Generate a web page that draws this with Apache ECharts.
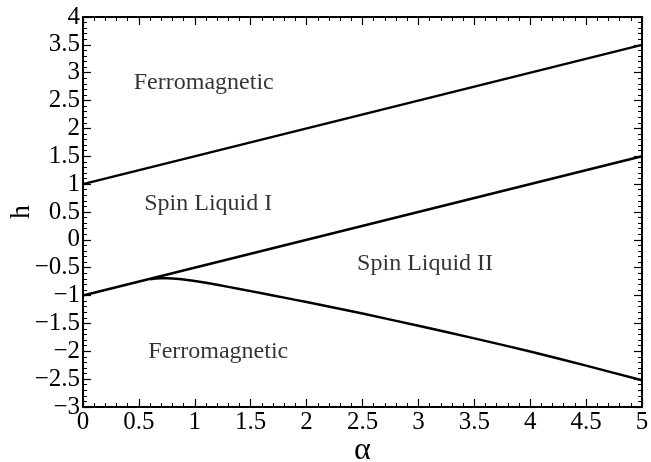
<!DOCTYPE html>
<html>
<head>
<meta charset="utf-8">
<script src="https://cdn.jsdelivr.net/npm/echarts@6/dist/echarts.min.js"></script>
<style>html,body{margin:0;padding:0;background:#fff}#c{width:651px;height:462px}</style>
</head>
<body>
<div id="c"></div>
<script>
// Upper boundary (Ferromagnetic / Spin Liquid I)
const upperAlpha = [0, 5];
const upperH = [1.0, 3.5];
// Middle boundary (Spin Liquid I / Spin Liquid II & Ferromagnetic)
const middleAlpha = [0, 5];
const middleH = [-1.0, 1.5];
// Lower boundary curve (Spin Liquid II / Ferromagnetic)
const lowerAlpha = [0.6, 0.65, 0.7, 0.75, 0.8, 0.9, 1.0, 1.2, 1.4, 1.6, 1.8, 2.0, 2.5, 3.0, 3.5, 4.0, 4.5, 5.0];
const lowerH = [-0.705, -0.693, -0.688, -0.688, -0.693, -0.71, -0.737, -0.807, -0.882, -0.958, -1.037, -1.117, -1.322, -1.543, -1.768, -2.003, -2.258, -2.52];
// Region labels
const regionNames = ['Ferromagnetic', 'Spin Liquid I', 'Spin Liquid II', 'Ferromagnetic'];
const regionAlpha = [1.08, 1.12, 3.06, 1.21];
const regionH = [2.82, 0.64, -0.42, -2.01];

const zip = (a, b) => a.map((v, i) => [v, b[i]]);
const FONT = '"Liberation Serif", "DejaVu Serif", serif';
const fmt = v => String(+v.toFixed(1)).replace('-', '\u2212');

const axisCommon = {
  type: 'value',
  axisLine: { show: true, onZero: false, lineStyle: { color: '#000', width: 2 } },
  axisTick: { show: true, inside: true, length: 8, lineStyle: { color: '#000', width: 1.2 } },
  minorTick: { show: true, splitNumber: 5, length: 4, lineStyle: { color: '#000', width: 1 } },
  splitLine: { show: false },
  minorSplitLine: { show: false }
};

const chart = echarts.init(document.getElementById('c'), null, { renderer: 'canvas' });
chart.setOption({
  animation: false,
  backgroundColor: '#fff',
  grid: { left: 83, right: 9, top: 17, bottom: 55, containLabel: false, outerBoundsMode: 'none' },
  xAxis: [
    Object.assign({}, axisCommon, {
      min: 0, max: 5, interval: 0.5, position: 'bottom',
      name: '\u03b1', nameLocation: 'middle', nameGap: 28, nameMoveOverlap: false,
      nameTextStyle: { fontFamily: FONT, fontSize: 32, color: '#000', verticalAlign: 'top' },
      axisLabel: { show: true, margin: 3, fontFamily: FONT, fontSize: 25, color: '#000', hideOverlap: false,
        showMinLabel: true, showMaxLabel: true, formatter: v => fmt(v) }
    }),
    Object.assign({}, axisCommon, {
      min: 0, max: 5, interval: 0.5, position: 'top', axisLabel: { show: false }
    })
  ],
  yAxis: [
    Object.assign({}, axisCommon, {
      min: -3, max: 4, interval: 0.5, position: 'left',
      name: 'h', nameLocation: 'middle', nameGap: 47, nameRotate: 90, nameMoveOverlap: false,
      nameTextStyle: { fontFamily: FONT, fontSize: 28, color: '#000' },
      axisLabel: { show: true, margin: 3, fontFamily: FONT, fontSize: 25, lineHeight: 25, color: '#000', hideOverlap: false,
        showMinLabel: true, showMaxLabel: true, formatter: v => fmt(v) }
    }),
    Object.assign({}, axisCommon, {
      min: -3, max: 4, interval: 0.5, position: 'right', axisLabel: { show: false }
    })
  ],
  series: [
    { type: 'line', data: zip(upperAlpha, upperH), symbol: 'none', lineStyle: { color: '#000', width: 2.5 }, silent: true },
    { type: 'line', data: zip(middleAlpha, middleH), symbol: 'none', lineStyle: { color: '#000', width: 2.5 }, silent: true },
    { type: 'line', data: zip(lowerAlpha, lowerH), symbol: 'none', smooth: 0.2, lineStyle: { color: '#000', width: 2.5, join: 'round' }, silent: true },
    { type: 'scatter', data: zip(regionAlpha, regionH).map((p, i) => ({ value: p, name: regionNames[i] })),
      symbolSize: 0, silent: true,
      label: { show: true, position: 'inside', formatter: p => p.name, fontFamily: FONT, fontSize: 24, color: '#000' } }
  ]
});
</script>
</body>
</html>
